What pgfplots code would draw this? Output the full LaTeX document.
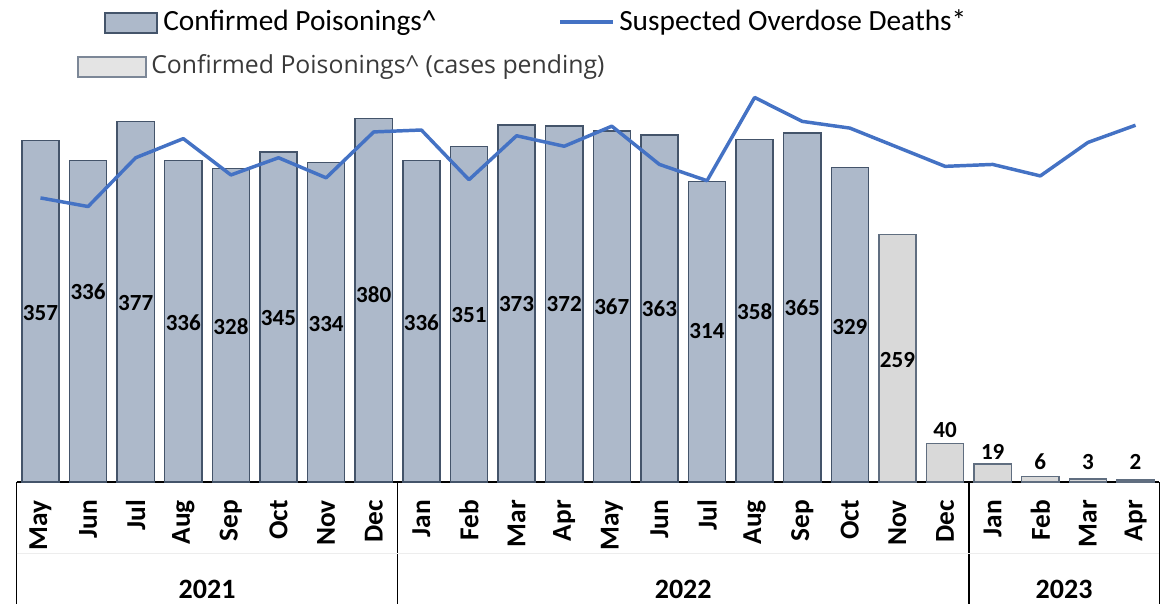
\documentclass[border=0pt]{standalone}
\usepackage{pgfplots}
\pgfplotsset{compat=1.18}
\usepackage{pgfplotstable}
\usepackage{fontspec}
\setmainfont{Carlito}
\newfontfamily\osans{Open Sans}
\definecolor{confbar}{HTML}{ADB9CA}
\definecolor{pendbar}{HTML}{D9D9D9}
\definecolor{baredge}{HTML}{44546A}
\definecolor{linecol}{HTML}{4472C4}
\definecolor{leggray}{HTML}{3A3A3A}

\pgfplotstableread{
x y
0 357
1 336
2 377
3 336
4 328
5 345
6 334
7 380
8 336
9 351
10 373
11 372
12 367
13 363
14 314
15 358
16 365
17 329
}\confirmed

\pgfplotstableread{
x y
18 259
19 40
20 19
21 6
22 3
23 2
}\pending

\pgfplotstableread{
x y
0 297
1 288
2 339
3 359
4 321
5 339
6 318
7 366
8 368
9 316
10 362
11 351
12 372
13 332
14 315
15 402
16 377
17 370
18 350
19 330
20 332
21 320
22 355
23 373
}\deaths

\pgfplotstableread{
x y label
0 176.7 357
1 199 336
2 187.1 377
3 166.2 336
4 162.0 328
5 171.5 345
6 165.2 334
7 195.5 380
8 166.2 336
9 174.6 351
10 186.1 373
11 186.1 372
12 183.0 367
13 180.9 363
14 157.9 314
15 177.7 358
16 181.9 365
17 162.0 329
18 127.5 259
19 54.4 40
20 31.7 19
21 20.9 6
22 20.9 3
23 20.9 2
}\labels

\begin{document}
\begin{tikzpicture}
\path[use as bounding box] (0,0) rectangle (872.25pt,453pt);
% legend
\draw[baredge, line width=1.1pt, fill=confbar] (78.75pt,428.25pt) rectangle (117.75pt,443.25pt);
\node[anchor=base west, inner sep=0pt, font=\fontsize{22pt}{26pt}\selectfont] at (122.25pt,429.75pt) {Confirmed Poisonings\textasciicircum};
\draw[linecol, line width=2.6pt] (420pt,436.5pt) -- (459.75pt,436.5pt);
\node[anchor=base west, inner sep=0pt, font=\fontsize{22pt}{26pt}\selectfont] at (464.25pt,429.75pt) {Suspected Overdose Deaths*};
\draw[baredge!70, line width=0.9pt, fill=pendbar!70] (58.5pt,395.25pt) rectangle (109.5pt,410.25pt);
\node[anchor=base west, inner sep=0pt, text=leggray, font=\osans\fontsize{18.6pt}{22pt}\selectfont] at (113.25pt,397.5pt) {Confirmed Poisonings\textasciicircum{} (cases pending)};

\begin{axis}[
  at={(12.5pt,91.5pt)}, anchor=south west,
  scale only axis, width=857pt, height=301.3pt,
  xmin=-0.5, xmax=23.5, ymin=0, ymax=420,
  clip=false,
  axis y line=none, ytick=\empty,
  axis x line*=bottom,
  x axis line style={black, line width=1.4pt, -},
  xtick={0,...,23},
  xticklabels={May,Jun,Jul,Aug,Sep,Oct,Nov,Dec,Jan,Feb,Mar,Apr,May,Jun,Jul,Aug,Sep,Oct,Nov,Dec,Jan,Feb,Mar,Apr},
  major tick length=0pt,
  xticklabel shift=13.5pt,
  xticklabel style={rotate=90, anchor=east, inner sep=0pt, font=\bfseries\fontsize{20.5pt}{24pt}\selectfont},
]
\addplot[ybar, bar width=0.78, bar shift=0pt, fill=confbar, draw=baredge, line width=1.1pt] table[x=x,y=y] {\confirmed};
\addplot[ybar, bar width=0.78, bar shift=0pt, fill=pendbar, draw=baredge!85, line width=1.1pt] table[x=x,y=y] {\pending};
\addplot[linecol, line width=2.6pt, line join=round, mark=none] table[x=x,y=y] {\deaths};
\addplot[only marks, mark=none, nodes near coords, point meta=explicit symbolic,
  nodes near coords style={anchor=center, inner sep=0pt, font=\bfseries\fontsize{17.3pt}{20pt}\selectfont, text=black}]
  table[x=x,y=y,meta=label] {\labels};
% category table
\draw[black, line width=1.1pt] (axis cs:-0.5,0) -- ++(0pt,-91.5pt);
\draw[black, line width=1.1pt] (axis cs:7.5,0) -- ++(0pt,-91.5pt);
\draw[black, line width=1.1pt] (axis cs:19.5,0) -- ++(0pt,-91.5pt);
\draw[black, line width=1.1pt] (axis cs:23.5,0) -- ++(0pt,-91.5pt);
\draw[black!7, line width=0.5pt] (axis cs:-0.5,0) ++(0pt,-53.25pt) -- ([yshift=-53.25pt]axis cs:23.5,0);
\node[font=\bfseries\fontsize{21pt}{24pt}\selectfont, inner sep=0pt] at ([yshift=-80.25pt]axis cs:3.5,0) {2021};
\node[font=\bfseries\fontsize{21pt}{24pt}\selectfont, inner sep=0pt] at ([yshift=-80.25pt]axis cs:13.5,0) {2022};
\node[font=\bfseries\fontsize{21pt}{24pt}\selectfont, inner sep=0pt] at ([yshift=-80.25pt]axis cs:21.5,0) {2023};
\end{axis}
\end{tikzpicture}
\end{document}
